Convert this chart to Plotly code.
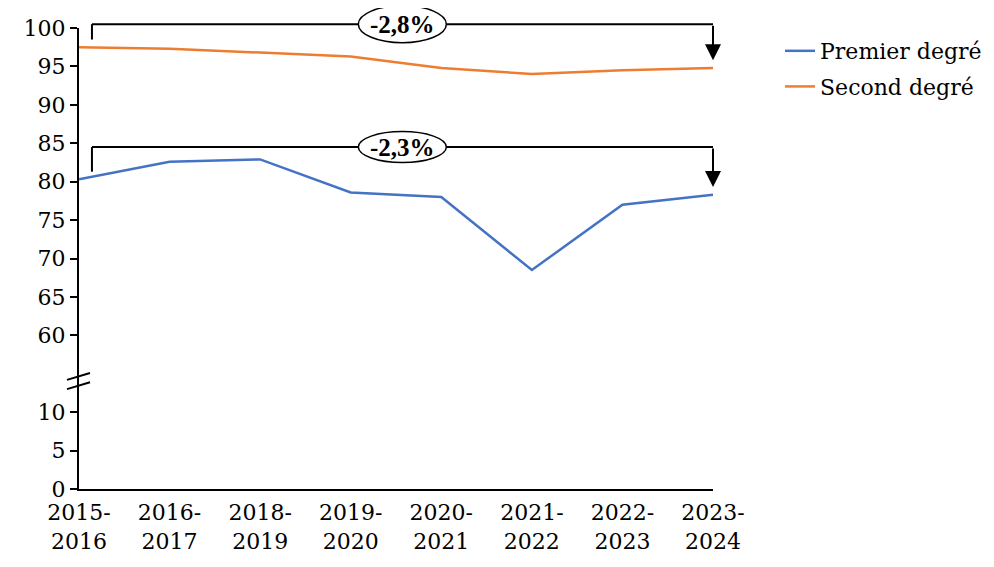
import plotly.graph_objects as go

categories = ["2015-<br>2016", "2016-<br>2017", "2018-<br>2019", "2019-<br>2020",
              "2020-<br>2021", "2021-<br>2022", "2022-<br>2023", "2023-<br>2024"]
premier = [80.3, 82.6, 82.9, 78.6, 78.0, 68.5, 77.0, 78.3]
second = [97.5, 97.3, 96.8, 96.3, 94.8, 94.0, 94.5, 94.8]

# broken axis: values 0-10 displayed at positions 40-50
tick_pos = [40, 45, 50, 60, 65, 70, 75, 80, 85, 90, 95, 100]
tick_text = ["0", "5", "10", "60", "65", "70", "75", "80", "85", "90", "95", "100"]
changes = ["-2,8%", "-2,3%"]

Y0, Y1 = 40, 100
N = len(categories) - 1
PW, PH = 634, 461

def px_(i):
    return i / N

def py_(v):
    return (v - Y0) / (Y1 - Y0)

FONT = "DejaVu Serif"
fig = go.Figure()
fig.add_trace(go.Scatter(x=categories, y=premier, mode="lines", name="Premier degré",
                         legendgroup="a", line=dict(color="#4472C4", width=2.5)))
fig.add_trace(go.Scatter(x=categories, y=second, mode="lines", name="Second degré",
                         legendgroup="b", line=dict(color="#ED7D31", width=2.5)))

shapes = []
annotations = []

def bracket(series, top, label, eh):
    first, last = series[0], series[-1]
    xl = px_(0.143)
    xr = px_(N)
    shapes.append(dict(type="line", xref="paper", yref="paper", x0=xl, x1=xl,
                       y0=py_(first + 1.0), y1=py_(top), line=dict(color="black", width=2)))
    shapes.append(dict(type="line", xref="paper", yref="paper", x0=xl, x1=xr,
                       y0=py_(top), y1=py_(top), line=dict(color="black", width=2)))
    xc = px_(3.57)
    ew = 88 / PW
    shapes.append(dict(type="circle", xref="paper", yref="paper",
                       x0=xc - ew / 2, x1=xc + ew / 2,
                       y0=py_(top) - eh / 2 / PH, y1=py_(top) + eh / 2 / PH,
                       fillcolor="white", line=dict(color="black", width=1.5)))
    annotations.append(dict(xref="paper", yref="paper", x=xc, y=py_(top), text="<b>" + label + "</b>",
                            showarrow=False, font=dict(family="Liberation Serif", size=25, color="black"),
                            xanchor="center", yanchor="middle"))
    annotations.append(dict(xref="paper", yref="paper", x=xr, y=py_(last + 1.0),
                            axref="pixel", ayref="pixel", ax=0, ay=-(py_(top) - py_(last + 1.0)) * PH,
                            showarrow=True, arrowhead=2, arrowsize=1.6, arrowwidth=2,
                            arrowcolor="black", standoff=0, text=""))

bracket(second, 100.5, changes[0], 37)
bracket(premier, 84.5, changes[1], 31)

# axis break marks
for a, b in [(55.1, 54.2), (53.9, 53.0)]:
    shapes.append(dict(type="line", xref="paper", yref="paper", x0=-12 / PW, x1=11 / PW,
                       y0=py_(b), y1=py_(a), line=dict(color="black", width=2)))

fig.update_layout(
    width=986, height=559,
    margin=dict(l=71, r=281, t=20, b=78, autoexpand=False),
    paper_bgcolor="white", plot_bgcolor="white",
    font=dict(family=FONT, size=22, color="black"),
    showlegend=True,
    legend=dict(xref="container", yref="container", x=0.783, y=0.9606,
                xanchor="left", yanchor="top", traceorder="grouped",
                tracegroupgap=4, itemwidth=30, font=dict(family=FONT, size=22),
                bgcolor="rgba(0,0,0,0)"),
    shapes=shapes, annotations=annotations,
)
fig.update_xaxes(type="category", range=[0, N], showgrid=False, showline=True,
                 linecolor="black", linewidth=2, ticks="", tickfont=dict(size=22),
                 ticklabelstandoff=3, zeroline=False, automargin=False)
fig.update_yaxes(range=[Y0, Y1], tickvals=tick_pos, ticktext=tick_text, showgrid=False,
                 showline=True, linecolor="black", linewidth=2, ticks="outside", ticklen=7,
                 tickwidth=2, tickcolor="black", zeroline=False, tickfont=dict(size=22),
                 automargin=False)

fig.write_html("out.html")
